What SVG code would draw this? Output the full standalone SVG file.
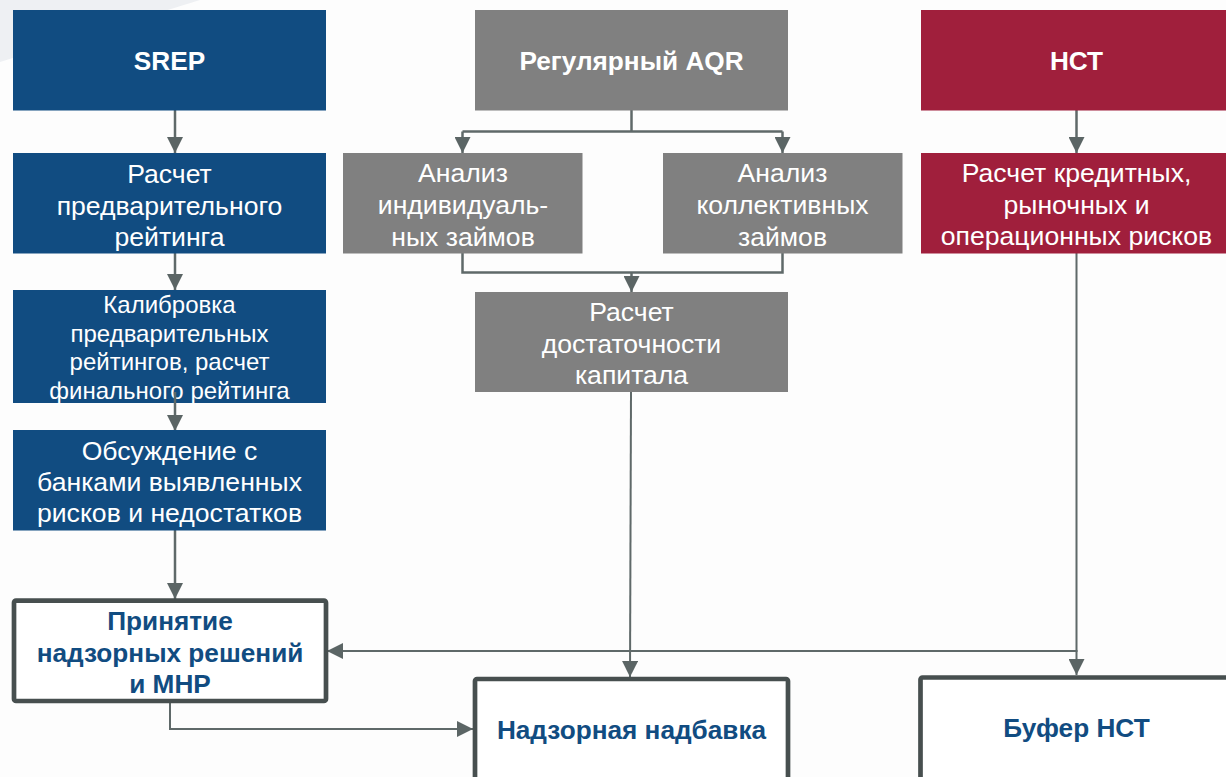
<svg xmlns="http://www.w3.org/2000/svg" width="1226" height="777" viewBox="0 0 1226 777">
<defs>
<marker id="ah" markerWidth="16" markerHeight="16" viewBox="0 0 16 16" refX="16" refY="8" orient="auto" markerUnits="userSpaceOnUse">
<path d="M0,0 L16,8 L0,16 Z" fill="#5B6565"/>
</marker>
<style>
.blue{fill:#114C81}
.gray{fill:#808080}
.red{fill:#A01F3C}
.out{fill:#FFFFFF;stroke:#474F4F;stroke-width:4.7}
.t{font-family:"Liberation Sans",Arial,sans-serif;font-size:26.6px;fill:#FFFFFF;text-anchor:middle}
.tb{font-family:"Liberation Sans",Arial,sans-serif;font-size:26.2px;font-weight:bold;fill:#FFFFFF;text-anchor:middle}
.ts{font-family:"Liberation Sans",Arial,sans-serif;font-size:24px;fill:#FFFFFF;text-anchor:middle}
.tbb{font-family:"Liberation Sans",Arial,sans-serif;font-size:26.2px;font-weight:bold;fill:#114C81;text-anchor:middle}
.c{fill:none;stroke:#5F6969;stroke-width:2.5}
.c2{fill:none;stroke:#5F6969;stroke-width:2}
</style>
</defs>
<rect x="0" y="0" width="1226" height="777" fill="#FDFDFD"/>
<polygon points="0,0 200,0 0,62" fill="#EEF0F3"/>

<g id="connectors">
<line class="c" x1="175" y1="110" x2="175" y2="153" marker-end="url(#ah)"/>
<line class="c" x1="175" y1="253" x2="175" y2="290" marker-end="url(#ah)"/>
<line class="c" x1="175" y1="392" x2="175" y2="431" marker-end="url(#ah)"/>
<line class="c" x1="175" y1="530" x2="175" y2="599" marker-end="url(#ah)"/>
<polyline class="c2" points="170,703 170,729 473,729" marker-end="url(#ah)"/>
<polyline class="c" points="631.5,110 631.5,131.5"/>
<line class="c" x1="462.5" y1="131.5" x2="782.5" y2="131.5"/>
<line class="c" x1="462.5" y1="131.5" x2="462.5" y2="153" marker-end="url(#ah)"/>
<line class="c" x1="782.5" y1="131.5" x2="782.5" y2="153" marker-end="url(#ah)"/>
<polyline class="c" points="462.5,253 462.5,272.5 782.5,272.5 782.5,253"/>
<line class="c" x1="631.5" y1="272.5" x2="631.5" y2="292" marker-end="url(#ah)"/>
<line class="c2" x1="631" y1="392" x2="630" y2="677" marker-end="url(#ah)"/>
<line class="c" x1="1076.5" y1="110" x2="1076.5" y2="153" marker-end="url(#ah)"/>
<line class="c2" x1="1076.5" y1="253" x2="1076.5" y2="675" marker-end="url(#ah)"/>
<line class="c2" x1="1077.5" y1="651" x2="327" y2="651" marker-end="url(#ah)"/>
</g>

<g id="srep">
<rect class="blue" x="13" y="10" width="313" height="100.5"/>
<text class="tb" x="169.5" y="70">SREP</text>
</g>
<g id="srep-prelim">
<rect class="blue" x="13" y="153" width="313" height="100.5"/>
<text class="t" x="169.5" y="183">Расчет</text>
<text class="t" x="169.5" y="214.5">предварительного</text>
<text class="t" x="169.5" y="246">рейтинга</text>
</g>
<g id="srep-calib">
<rect class="blue" x="13" y="290" width="313" height="113"/>
<text class="ts" x="169.5" y="313">Калибровка</text>
<text class="ts" x="169.5" y="341.5">предварительных</text>
<text class="ts" x="169.5" y="370">рейтингов, расчет</text>
<text class="ts" x="169.5" y="398.5">финального рейтинга</text>
</g>
<line class="c" x1="175" y1="392" x2="175" y2="403"/>
<g id="srep-discuss">
<rect class="blue" x="13" y="430" width="313" height="100.5"/>
<text class="t" x="169.5" y="460">Обсуждение с</text>
<text class="t" x="169.5" y="491">банками выявленных</text>
<text class="t" x="169.5" y="522">рисков и недостатков</text>
</g>
<g id="decisions">
<rect class="out" x="14" y="600.7" width="312" height="100.3" rx="2"/>
<text class="tbb" x="170" y="630">Принятие</text>
<text class="tbb" x="170" y="661.5">надзорных решений</text>
<text class="tbb" x="170" y="693">и МНР</text>
</g>

<g id="aqr">
<rect class="gray" x="475" y="10" width="313" height="100.5"/>
<text class="tb" x="631.5" y="70">Регулярный AQR</text>
</g>
<g id="aqr-individual">
<rect class="gray" x="343" y="153" width="239.5" height="100.5"/>
<text class="t" x="463" y="182">Анализ</text>
<text class="t" x="463" y="214">индивидуаль-</text>
<text class="t" x="463" y="246">ных займов</text>
</g>
<g id="aqr-collective">
<rect class="gray" x="663" y="153" width="239.5" height="100.5"/>
<text class="t" x="782.5" y="182">Анализ</text>
<text class="t" x="782.5" y="214">коллективных</text>
<text class="t" x="782.5" y="246">займов</text>
</g>
<g id="aqr-capital">
<rect class="gray" x="475" y="292" width="313" height="100"/>
<text class="t" x="631.5" y="321">Расчет</text>
<text class="t" x="631.5" y="352.5">достаточности</text>
<text class="t" x="631.5" y="384">капитала</text>
</g>
<g id="surcharge">
<rect class="out" x="475" y="679" width="313" height="120" rx="2"/>
<text class="tbb" x="631.5" y="739">Надзорная надбавка</text>
</g>

<g id="nst">
<rect class="red" x="921" y="10" width="311" height="100.5"/>
<text class="tb" x="1076.5" y="70">НСТ</text>
</g>
<g id="nst-risks">
<rect class="red" x="921" y="153" width="311" height="100.5"/>
<text class="t" x="1076.5" y="182">Расчет кредитных,</text>
<text class="t" x="1076.5" y="213.5">рыночных и</text>
<text class="t" x="1076.5" y="245">операционных рисков</text>
</g>
<g id="nst-buffer">
<rect class="out" x="920.5" y="677.5" width="320" height="120" rx="2"/>
<text class="tbb" x="1076.5" y="737">Буфер НСТ</text>
</g>
</svg>
